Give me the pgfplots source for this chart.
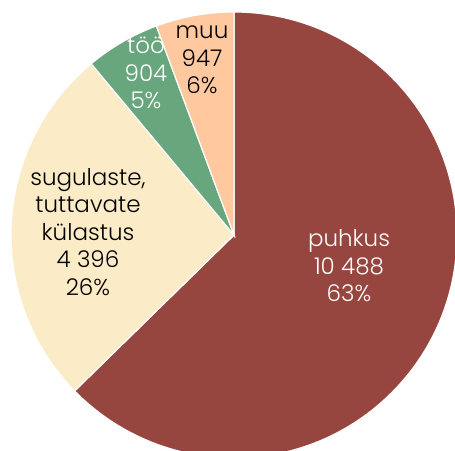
\documentclass[border=0pt]{standalone}
\usepackage{pgfplots}
\usepackage{pgfplotstable}
\pgfplotsset{compat=1.18}
\usepackage{fontspec}
\setmainfont{Poppins}[UprightFont=* Light]
\definecolor{cPuh}{HTML}{97463F}
\definecolor{cSug}{HTML}{FBEBC6}
\definecolor{cToo}{HTML}{68A67E}
\definecolor{cMuu}{HTML}{FFC89F}
\pgfplotstableread[col sep=comma]{
label,value
puhkus,10488
sugulaste,4396
too,904
muu,947
}\piedata
\begin{document}
\begin{tikzpicture}
\pgfplotstablegetelem{0}{value}\of\piedata \let\vA\pgfplotsretval
\pgfplotstablegetelem{1}{value}\of\piedata \let\vB\pgfplotsretval
\pgfplotstablegetelem{2}{value}\of\piedata \let\vC\pgfplotsretval
\pgfplotstablegetelem{3}{value}\of\piedata \let\vD\pgfplotsretval
\pgfmathsetmacro\tot{\vA/1000+\vB/1000+\vC/1000+\vD/1000}
\pgfmathsetmacro\aO{90}
\pgfmathsetmacro\aA{90-0.36*\vA/\tot}
\pgfmathsetmacro\aB{\aA-0.36*\vB/\tot}
\pgfmathsetmacro\aC{\aB-0.36*\vC/\tot}
\pgfmathsetmacro\aD{\aC-0.36*\vD/\tot}
\useasboundingbox (0pt,0pt) rectangle (455pt,450pt);
\begin{axis}[
  x=1pt, y=1pt, xmin=-234, xmax=221, ymin=-215, ymax=235,
  hide axis, clip=true, anchor=origin, at={(234pt,215pt)},
  scale only axis,
]
\def\R{223}
\filldraw[fill=cPuh, draw=white, line width=1.2pt] (axis cs:0,0) -- (axis cs:{\R*cos(\aO)},{\R*sin(\aO)}) arc[start angle=\aO, end angle=\aA, radius=\R pt] -- cycle;
\filldraw[fill=cSug, draw=white, line width=1.2pt] (axis cs:0,0) -- (axis cs:{\R*cos(\aA)},{\R*sin(\aA)}) arc[start angle=\aA, end angle=\aB, radius=\R pt] -- cycle;
\filldraw[fill=cToo, draw=white, line width=1.2pt] (axis cs:0,0) -- (axis cs:{\R*cos(\aB)},{\R*sin(\aB)}) arc[start angle=\aB, end angle=\aC, radius=\R pt] -- cycle;
\filldraw[fill=cMuu, draw=white, line width=1.2pt] (axis cs:0,0) -- (axis cs:{\R*cos(\aC)},{\R*sin(\aC)}) arc[start angle=\aC, end angle=\aD, radius=\R pt] -- cycle;
\tikzset{lab/.style={align=center, font=\fontsize{23}{27.5}\selectfont, inner sep=0pt}}
\node[lab, text=white] at (axis cs:115,-31) {puhkus\\10 488\\63\%};
\node[lab, text=black] at (axis cs:-146,3) {sugulaste,\\tuttavate\\külastus\\4 396\\26\%};
\node[lab, text=white] at (axis cs:-88,162) {töö\\904\\5\%};
\node[lab, text=black] at (axis cs:-32,175) {muu\\947\\6\%};
\end{axis}
\end{tikzpicture}
\end{document}
